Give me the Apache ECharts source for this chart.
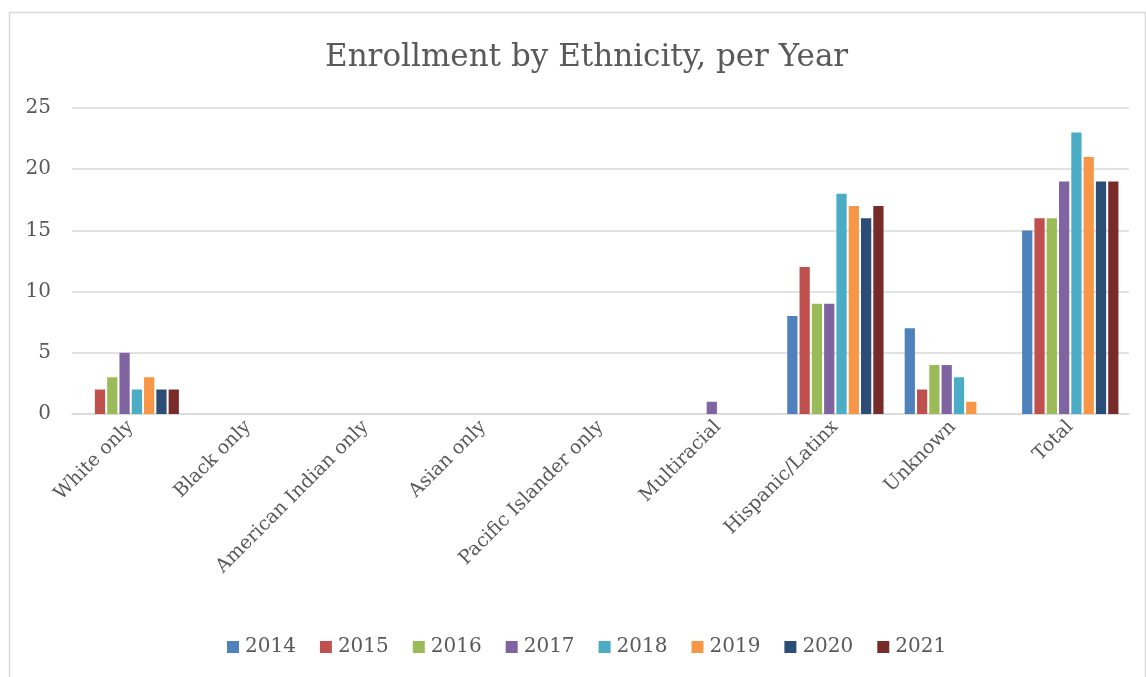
<!DOCTYPE html>
<html>
<head>
<meta charset="utf-8">
<script src="https://cdn.jsdelivr.net/npm/echarts@6/dist/echarts.min.js"></script>
<style>
  html, body { margin: 0; padding: 0; background: #fff; }
  #main { width: 1146px; height: 677px; }
</style>
</head>
<body>
<div id="main"></div>
<script>
// categories and values
const categories = ['White only', 'Black only', 'American Indian only', 'Asian only',
  'Pacific Islander only', 'Multiracial', 'Hispanic/Latinx', 'Unknown', 'Total'];
const years = ['2014', '2015', '2016', '2017', '2018', '2019', '2020', '2021'];
const v2014 = [0, 0, 0, 0, 0, 0, 8, 7, 15];
const v2015 = [2, 0, 0, 0, 0, 0, 12, 2, 16];
const v2016 = [3, 0, 0, 0, 0, 0, 9, 4, 16];
const v2017 = [5, 0, 0, 0, 0, 1, 9, 4, 19];
const v2018 = [2, 0, 0, 0, 0, 0, 18, 3, 23];
const v2019 = [3, 0, 0, 0, 0, 0, 17, 1, 21];
const v2020 = [2, 0, 0, 0, 0, 0, 16, 0, 19];
const v2021 = [2, 0, 0, 0, 0, 0, 17, 0, 19];
const yearValues = [v2014, v2015, v2016, v2017, v2018, v2019, v2020, v2021];
const colors = ['#4F81BD', '#C0504D', '#9BBB59', '#8064A2', '#4BACC6', '#F79646', '#2C4D75', '#772C2A'];

const font = 'DejaVu Serif';
let chart = echarts.init(document.getElementById('main'));

let option = {
  animation: false,
  color: colors,
  graphic: [{
    type: 'rect',
    left: 7, top: 10,
    shape: { width: 1136, height: 700 },
    style: { fill: 'none', stroke: '#d9d9d9', lineWidth: 1.5 },
    silent: true
  }],
  title: {
    text: 'Enrollment by Ethnicity, per Year',
    left: 320,
    top: 37,
    textStyle: { fontFamily: font, fontSize: 31, fontWeight: 'normal', color: '#595959' }
  },
  legend: {
    top: 632,
    left: 222,
    itemWidth: 12,
    itemHeight: 12,
    itemGap: 24,
    icon: 'rect',
    textStyle: { fontFamily: font, fontSize: 20, color: '#595959', padding: [0, 0, 0, 1] },
    data: years
  },
  grid: { left: 72, right: 17, top: 108, bottom: 263 },
  xAxis: {
    type: 'category',
    data: categories,
    axisTick: { show: false },
    axisLine: { lineStyle: { color: '#d9d9d9', width: 1.5 } },
    axisLabel: {
      rotate: 45, interval: 0, margin: 10,
      fontFamily: font, fontSize: 19, color: '#595959'
    }
  },
  yAxis: {
    type: 'value',
    min: 0, max: 25, interval: 5,
    axisLine: { show: false },
    axisTick: { show: false },
    splitLine: { lineStyle: { color: '#d9d9d9', width: 1.5 } },
    axisLabel: { fontFamily: font, fontSize: 20, color: '#595959', margin: 21 }
  },
  series: years.map((y, i) => ({
    name: y,
    type: 'bar',
    data: yearValues[i],
    barGap: '20%',
    barCategoryGap: '18%'
  }))
};

chart.setOption(option);
window.addEventListener('resize', function () {
  chart.resize();
});
</script>
</body>
</html>
